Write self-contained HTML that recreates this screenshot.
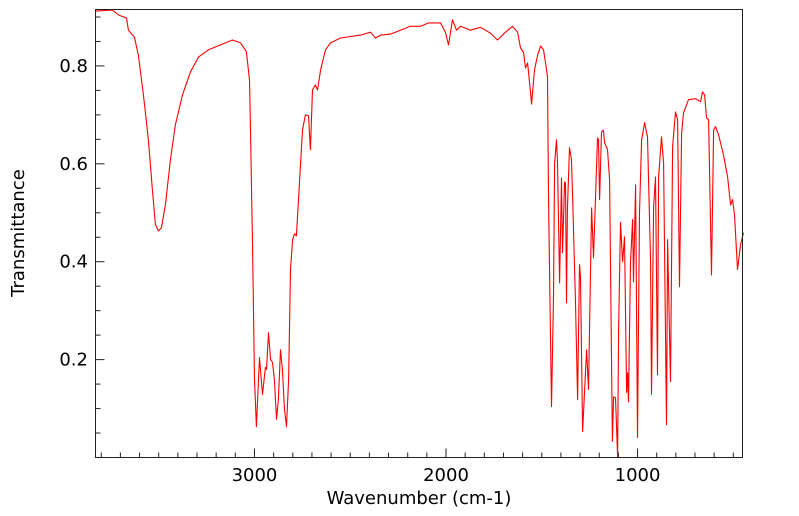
<!DOCTYPE html>
<html><head><meta charset="utf-8"><style>
body{margin:0;background:#fff;}
svg{display:block;font-family:"DejaVu Sans","Liberation Sans",sans-serif;}
</style></head><body>
<svg id="chart" width="799" height="516">
<g id="ticks"></g>
<path id="line" fill="none" stroke="#ff0000" stroke-width="1.1" stroke-linejoin="round"/>
<rect x="95.5" y="9.5" width="647" height="448" fill="none" stroke="#222" stroke-width="1"/>
<text x="419" y="504" text-anchor="middle" font-size="18">Wavenumber (cm-1)</text>
<text transform="translate(24,233) rotate(-90)" text-anchor="middle" font-size="18">Transmittance</text>
</svg>
<script>
const wavenumbers=[3830,3741,3710,3668,3658,3627,3606,3580,3554,3533,3517,3501,3486,3465,3439,3413,3376,3334,3292,3240,3177,3115,3073,3042,3026,3021,3010,3000,2990,2974,2958,2943,2937,2927,2916,2906,2896,2885,2875,2864,2854,2843,2833,2822,2812,2801,2791,2781,2770,2749,2734,2718,2708,2697,2682,2671,2655,2629,2603,2551,2446,2394,2368,2342,2290,2238,2186,2133,2091,2029,2003,1987,1966,1945,1924,1872,1820,1768,1731,1689,1653,1626,1611,1595,1585,1574,1564,1553,1538,1522,1506,1491,1475,
1470,1465,1449,1439,1433,1423,1418,1407,1397,1392,1381,1376,1371,1366,1355,1345,1339,1324,1313,1303,1298,1287,1266,1256,1240,1230,1209,1204,1198,1188,1178,1172,1157,1146,1131,1125,1115,1104,1099,1089,1078,1068,1057,1052,1047,1037,1026,1021,1010,1000,990,979,963,948,932,927,916,906,896,890,875,864,849,843,828,817,802,791,781,770,760,734,697,671,661,650,640,629,614,603,593,577,551,530,514,504,494,478,462,447];
const transmittance=[.912,.914,.904,.898,.873,.859,.822,.741,.649,.547,.476,.463,.469,.516,.608,.680,.741,.788,.818,.833,.843,.853,.847,.829,.771,.669,.424,.159,.063,.204,.129,.184,.180,.255,.2,.194,.159,.078,.118,.220,.180,.098,.063,.159,.384,.445,.457,.453,.527,.669,.7,.698,.629,.751,.761,.751,.792,.833,.847,.857,.863,.869,.857,.863,.865,.873,.881,.881,.888,.888,.869,.843,.894,.873,.881,.873,.879,.867,.853,.869,.881,.869,.837,.827,.796,.806,.767,.722,.792,.822,.841,.833,.792,
.778,.533,.104,.329,.601,.649,.602,.357,.571,.418,.563,.561,.316,.506,.633,.608,.533,.316,.118,.394,.369,.053,.220,.139,.510,.408,.653,.649,.527,.665,.669,.643,.629,.567,.033,.124,.122,.002,.261,.480,.4,.451,.133,.173,.114,.398,.486,.359,.557,.041,.5,.649,.684,.655,.398,.129,.512,.573,.169,.573,.655,.602,.067,.445,.155,.635,.706,.690,.349,.663,.704,.731,.733,.727,.747,.741,.694,.690,.373,.669,.676,.659,.618,.573,.516,.527,.496,.384,.435,.459];
const xMajorTicks=[3000,2000,1000];
const yMajorTicks=[0.2,0.4,0.6,0.8];
const yTickLabels=["0.2","0.4","0.6","0.8"];
const X0=95.5,X1=742.5,Y0=9.5,Y1=457.5;
const wnLeft=3830,wnRight=452,tMin=0,tMax=0.9153;
function xs(w){return X0+(wnLeft-w)/(wnLeft-wnRight)*(X1-X0);}
function ys(t){return Y1-(t-tMin)/(tMax-tMin)*(Y1-Y0);}
const NS="http://www.w3.org/2000/svg";
let d="";
for(let i=0;i<wavenumbers.length;i++){d+=(i?"L":"M")+xs(wavenumbers[i]).toFixed(1)+","+ys(transmittance[i]).toFixed(1);}
document.getElementById("line").setAttribute("d",d);
const g=document.getElementById("ticks");
function ln(x1,y1,x2,y2){const l=document.createElementNS(NS,"line");l.setAttribute("x1",x1);l.setAttribute("y1",y1);l.setAttribute("x2",x2);l.setAttribute("y2",y2);l.setAttribute("stroke","#222");


g.appendChild(l);}
function tx(x,y,s,a){const t=document.createElementNS(NS,"text");t.setAttribute("x",x);t.setAttribute("y",y);t.setAttribute("text-anchor",a);t.setAttribute("font-size","18");t.textContent=s;


g.appendChild(t);}
for(let w=3800;w>=500;w-=100){const x=xs(w);const maj=xMajorTicks.includes(w);ln(x,Y1,x,Y1-(maj?9:5));}
xMajorTicks.forEach(w=>tx(xs(w),481,String(w),"middle"));
for(let k=1;k<=18;k++){const t=k*0.05;const y=ys(t);if(y<Y0)break;const maj=Math.abs(t*5-Math.round(t*5))<1e-6;ln(X0,y,X0+(maj?9:5),y);}
yMajorTicks.forEach((t,i)=>tx(88,ys(t)+6,yTickLabels[i],"end"));
</script>
</body></html>
